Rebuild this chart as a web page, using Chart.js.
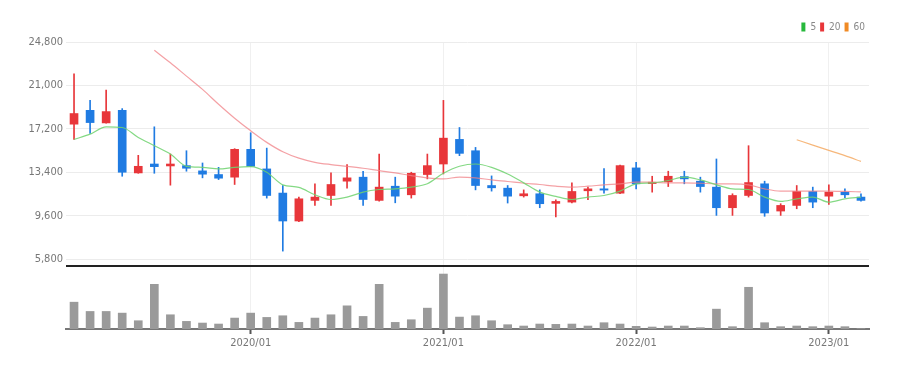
<!DOCTYPE html>
<html>
<head>
<meta charset="utf-8">
<script src="https://cdn.jsdelivr.net/npm/chart.js@4/dist/chart.umd.min.js"></script>
<style>
html, body { margin: 0; padding: 0; background: #fff; }
</style>
</head>
<body>
<canvas id="chart" width="909" height="370"></canvas>
<script>
var months = ['2019/02','2019/03','2019/04','2019/05','2019/06','2019/07','2019/08','2019/09','2019/10','2019/11','2019/12',
  '2020/01','2020/02','2020/03','2020/04','2020/05','2020/06','2020/07','2020/08','2020/09','2020/10','2020/11','2020/12',
  '2021/01','2021/02','2021/03','2021/04','2021/05','2021/06','2021/07','2021/08','2021/09','2021/10','2021/11','2021/12',
  '2022/01','2022/02','2022/03','2022/04','2022/05','2022/06','2022/07','2022/08','2022/09','2022/10','2022/11','2022/12',
  '2023/01','2023/02','2023/03'];

var open  = [17620,18830,17730,18830,13360,14140,13970,14000,13540,13220,12990,15420,13710,11600,9160,10960,11390,12640,12990,10960,
  12200,11450,13220,14140,16290,15300,12260,12030,11360,11540,10700,10810,11800,11970,11590,13800,12430,12580,13040,12640,
  12120,10320,11390,12410,10030,10520,11740,11330,11680,11250];
var high  = [22020,19700,20600,18980,14900,17390,15010,15300,14230,13850,15480,16870,15530,12260,11250,12410,13360,14090,13510,15010,
  12990,13420,15010,19700,17330,15590,13100,12260,11880,11880,11020,12490,12120,13740,14050,14290,13070,13510,13510,12990,
  14580,11540,15740,12640,10670,12260,12120,12320,11970,11540];
var low   = [16290,16810,17700,13070,13330,13330,12290,13510,12930,12780,12350,13900,11160,6530,9100,10520,10520,12030,10520,10900,
  10750,11160,12840,13270,14870,11880,11770,10730,11250,10320,9510,10730,11020,11590,11540,11970,11680,12170,12410,11680,
  9650,9650,11250,9570,9650,10230,10320,10610,11190,10900];
var close = [18550,17760,18720,13420,13940,13910,14140,13770,13250,12900,15420,13940,11390,9160,11100,11250,12350,12930,11040,12120,
  11330,13330,14000,16400,15070,12260,12060,11330,11540,10670,10870,11740,11970,11860,14000,12410,12550,13070,12840,12170,
  10320,11390,12520,9860,10520,11740,10810,11680,11450,10960];

var ma5  = [16290,16750,17390,17330,16460,15740,15010,13940,13850,13710,13850,13910,13420,12320,12100,11450,11040,11250,11680,11910,
  11970,12120,12410,13330,13940,14140,13850,13270,12490,11680,11310,11040,11250,11390,11770,12410,12490,12700,12990,12750,
  12320,11970,11910,11250,10870,11100,11250,10810,11100,11250];
var ma20 = [null,null,null,null,null,24080,22980,21820,20660,19360,18140,17040,16030,15210,14650,14290,14090,13940,13770,13560,
  13360,13130,12930,12840,12990,12930,12750,12610,12460,12350,12200,12120,12200,12320,12410,12550,12550,12490,12490,12460,
  12410,12410,12320,11970,11770,11770,11770,11770,11740,11700];
var ma60 = [null,null,null,null,null,null,null,null,null,null,null,null,null,null,null,null,null,null,null,null,
  null,null,null,null,null,null,null,null,null,null,null,null,null,null,null,null,null,null,null,null,
  null,null,null,null,null,16260,15790,15330,14870,14370];

var volume = [81,53,53,48,25,135,43,23,18,15,33,48,35,40,20,33,43,70,38,135,20,28,63,166,
  36,40,25,13,9,15,14,15,9,19,15,8,6,9,9,4,60,7,126,19,7,9,7,9,7,1];

var priceTicks = [5800, 9600, 13400, 17200, 21000, 24800];
var maLabels = ['5', '20', '60'];

var UP = '#e8363a';
var DOWN = '#1f7be2';
var FONT = "'Liberation Sans Narrow', 'DejaVu Sans Condensed', sans-serif";
var PRICE_MIN = 5220;
var legendColors = ['#27b83c', '#e8363a', '#f08a24'];

function candleColor(ctx) {
  var i = ctx.dataIndex;
  return close[i] >= open[i] ? UP : DOWN;
}

var ctx = document.getElementById('chart').getContext('2d');
var chart = new Chart(ctx, {
  type: 'bar',
  data: {
    labels: months,
    datasets: [
      {
        // wicks
        data: months.map(function (m, i) { return [low[i], high[i]]; }),
        yAxisID: 'y', barThickness: 1, grouped: false,
        backgroundColor: candleColor, order: 3
      },
      {
        // bodies
        data: months.map(function (m, i) { return [open[i], close[i]]; }),
        yAxisID: 'y', barThickness: 8, grouped: false,
        backgroundColor: candleColor, order: 2
      },
      {
        data: volume, yAxisID: 'v', barThickness: 8, grouped: false,
        backgroundColor: '#9a9a9a', order: 4
      },
      {
        type: 'line', label: maLabels[0], data: ma5, yAxisID: 'y',
        borderColor: 'rgba(110,210,110,0.85)', borderWidth: 1.2, pointRadius: 0,
        cubicInterpolationMode: 'monotone', order: 1
      },
      {
        type: 'line', label: maLabels[1], data: ma20, yAxisID: 'y',
        borderColor: 'rgba(240,130,135,0.75)', borderWidth: 1.2, pointRadius: 0,
        cubicInterpolationMode: 'monotone', order: 1
      },
      {
        type: 'line', label: maLabels[2], data: ma60, yAxisID: 'y',
        borderColor: 'rgba(245,170,100,0.85)', borderWidth: 1.2, pointRadius: 0,
        cubicInterpolationMode: 'monotone', order: 1
      }
    ]
  },
  options: {
    responsive: false,
    animation: false,
    events: [],
    layout: { padding: { top: 18, right: 40, left: 0, bottom: 0 } },
    plugins: {
      tooltip: { enabled: false },
      legend: {
        position: 'top',
        align: 'end',
        labels: {
          boxWidth: 4, boxHeight: 9, padding: 4, color: '#888',
          font: { family: FONT, size: 10 },
          generateLabels: function (chart) {
            return maLabels.map(function (t, k) {
              return {
                text: t, fillStyle: legendColors[k], strokeStyle: legendColors[k],
                lineWidth: 0, fontColor: '#888', datasetIndex: 3 + k, hidden: false
              };
            });
          }
        }
      }
    },
    scales: {
      x: {
        offset: true,
        z: 1,
        border: { color: '#777', width: 2 },
        grid: {
          offset: false,
          tickLength: 5,
          color: function (c) { return months[c.index] && months[c.index].slice(5) === '01' ? '#f0f0f0' : 'rgba(0,0,0,0)'; },
          tickColor: function (c) { return months[c.index] && months[c.index].slice(5) === '01' ? '#555' : 'rgba(0,0,0,0)'; },
          tickWidth: 2
        },
        ticks: {
          autoSkip: false, maxRotation: 0, padding: 3,
          color: '#777', font: { family: FONT, size: 11 },
          callback: function (v, i) { return months[i].slice(5) === '01' ? months[i] : ''; }
        },
        afterFit: function (a) { a.height = 41; }
      },
      v: {
        type: 'linear', position: 'left', stack: 'main', stackWeight: 63.3,
        min: 0, max: 190,
        border: { display: false },
        grid: { display: false },
        ticks: { display: false },
        afterFit: function (a) { a.width = 66; }
      },
      y: {
        type: 'linear', position: 'left', stack: 'main', stackWeight: 225.5,
        min: PRICE_MIN, max: 24800,
        border: { display: false },
        grid: {
          drawTicks: false,
          color: function (c) { return c.tick.value === PRICE_MIN ? '#222' : '#ececec'; },
          lineWidth: function (c) { return c.tick.value === PRICE_MIN ? 2 : 1; }
        },
        ticks: {
          padding: 3, color: '#777', font: { family: FONT, size: 11 },
          callback: function (v) { return v === PRICE_MIN ? '' : v.toLocaleString('en-US'); }
        },
        afterBuildTicks: function (a) {
          a.ticks = [PRICE_MIN].concat(priceTicks).map(function (v) { return { value: v }; });
        },
        afterFit: function (a) { a.width = 66; }
      }
    }
  }
});
</script>
</body>
</html>
